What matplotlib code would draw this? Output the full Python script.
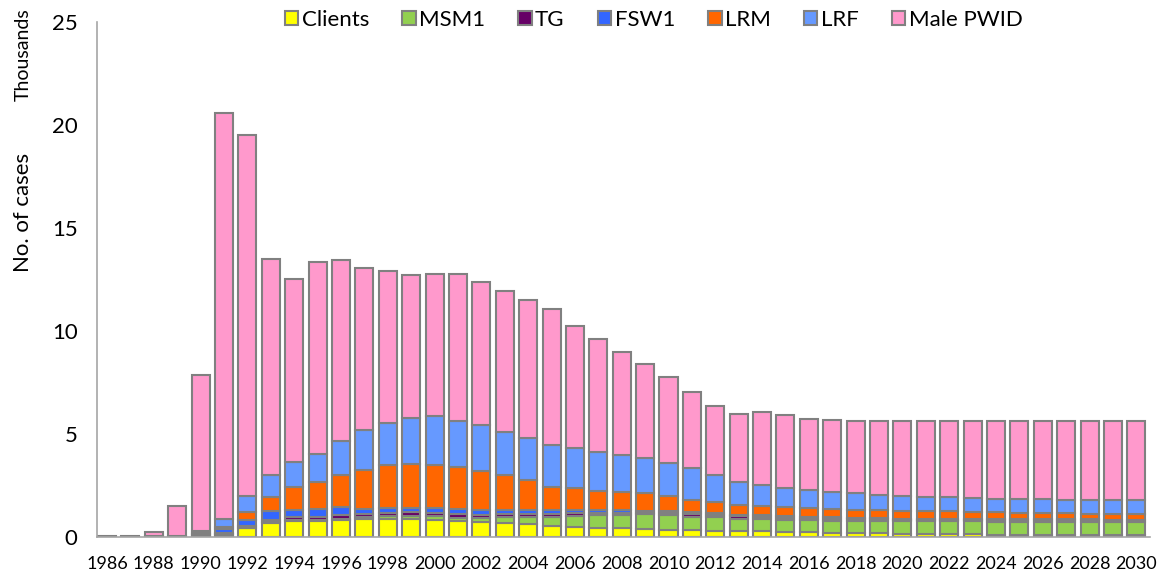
import numpy as np
import matplotlib.pyplot as plt

years = list(range(1986, 2031))

# values in thousands
clients = [0, 0, 0.01, 0.01, 0.05, 0.10, 0.42, 0.66, 0.79, 0.76, 0.85, 0.88, 0.88, 0.90, 0.85,
           0.78, 0.73, 0.68, 0.63, 0.56, 0.50, 0.45, 0.42, 0.38, 0.36, 0.33, 0.30, 0.28, 0.27, 0.25,
           0.24, 0.22, 0.20, 0.18, 0.17, 0.15, 0.14, 0.13, 0.12, 0.11, 0.10, 0.10, 0.09, 0.09, 0.08]
msm1 = [0, 0, 0, 0, 0.02, 0.03, 0.04, 0.06, 0.05, 0.06, 0.05, 0.09, 0.14, 0.12, 0.15,
        0.15, 0.20, 0.27, 0.34, 0.39, 0.53, 0.60, 0.66, 0.72, 0.72, 0.65, 0.67, 0.62, 0.61, 0.60,
        0.58, 0.58, 0.59, 0.60, 0.60, 0.62, 0.62, 0.63, 0.63, 0.64, 0.64, 0.64, 0.65, 0.65, 0.66]
tg = [0, 0, 0, 0, 0.02, 0.07, 0.09, 0.13, 0.13, 0.13, 0.15, 0.15, 0.16, 0.18, 0.18,
      0.17, 0.15, 0.15, 0.15, 0.15, 0.12, 0.10, 0.10, 0.08, 0.07, 0.12, 0.10, 0.10, 0.09, 0.08,
      0.08, 0.08, 0.08, 0.08, 0.08, 0.07, 0.07, 0.07, 0.07, 0.07, 0.07, 0.07, 0.07, 0.07, 0.07]
fsw1 = [0, 0, 0.01, 0.01, 0.08, 0.18, 0.30, 0.40, 0.33, 0.40, 0.40, 0.26, 0.24, 0.20, 0.22,
        0.25, 0.22, 0.20, 0.18, 0.20, 0.15, 0.15, 0.12, 0.10, 0.10, 0.10, 0.08, 0.08, 0.08, 0.09,
        0.08, 0.07, 0.06, 0.06, 0.05, 0.06, 0.06, 0.05, 0.05, 0.05, 0.05, 0.05, 0.05, 0.04, 0.04]
lrm = [0, 0, 0.01, 0.01, 0.05, 0.12, 0.35, 0.68, 1.15, 1.30, 1.55, 1.87, 2.08, 2.15, 2.10,
       2.05, 1.92, 1.70, 1.48, 1.15, 1.10, 0.95, 0.90, 0.87, 0.73, 0.60, 0.55, 0.47, 0.45, 0.43,
       0.42, 0.42, 0.40, 0.38, 0.38, 0.36, 0.35, 0.34, 0.33, 0.31, 0.30, 0.29, 0.28, 0.28, 0.27]
lrf = [0, 0, 0.01, 0.02, 0.08, 0.40, 0.78, 1.07, 1.20, 1.40, 1.65, 1.95, 2.05, 2.25, 2.35,
       2.25, 2.23, 2.12, 2.05, 2.00, 1.90, 1.90, 1.80, 1.67, 1.62, 1.55, 1.30, 1.13, 1.02, 0.95,
       0.90, 0.83, 0.80, 0.75, 0.72, 0.70, 0.69, 0.68, 0.67, 0.67, 0.67, 0.66, 0.66, 0.66, 0.66]
male_pwid = [0.03, 0.04, 0.22, 1.45, 7.55, 19.70, 17.52, 10.50, 8.85, 9.30, 8.80, 7.85, 7.35, 6.90, 6.90,
             7.10, 6.95, 6.83, 6.67, 6.60, 5.95, 5.45, 5.00, 4.58, 4.15, 3.70, 3.38, 3.30, 3.55, 3.50,
             3.45, 3.48, 3.52, 3.58, 3.63, 3.66, 3.69, 3.72, 3.75, 3.78, 3.80, 3.82, 3.83, 3.85, 3.87]

series = [('Clients', clients, '#FFFF00'),
          ('MSM1', msm1, '#92D050'),
          ('TG', tg, '#660066'),
          ('FSW1', fsw1, '#3366FF'),
          ('LRM', lrm, '#FF6600'),
          ('LRF', lrf, '#6699FF'),
          ('Male PWID', male_pwid, '#FF99CC')]

plt.rcParams['font.family'] = ['Lato', 'DejaVu Sans']

fig = plt.figure(figsize=(11.61, 5.75), dpi=100)
ax = fig.add_axes([0.0835, 0.066, 0.907, 0.896])

x = np.arange(len(years))
bottom = np.zeros(len(years))
for name, vals, col in series:
    ax.bar(x, vals, 0.77, bottom=bottom, color=col, edgecolor='#808080',
           linewidth=1.5, label=name)
    bottom += np.array(vals)

ax.set_ylim(0, 25)
ax.set_xlim(-0.43, len(years) - 1 + 0.58)
ax.set_yticks([0, 5, 10, 15, 20, 25])
ax.set_xticks(x[::2])
ax.set_xticklabels([str(y) for y in years[::2]])
ax.tick_params(axis='y', length=0, labelsize=16, pad=14)
ax.tick_params(axis='x', length=0, labelsize=13, pad=14)

for s in ['top', 'right']:
    ax.spines[s].set_visible(False)
for s in ['left', 'bottom']:
    ax.spines[s].set_color('#A6A6A6')
    ax.spines[s].set_linewidth(1.2)

fig.text(0.02, 0.63, 'No. of cases', rotation=90, fontsize=16, ha='center', va='center')
fig.text(0.02, 0.905, 'Thousands', rotation=90, fontsize=14, ha='center', va='center')

ax.legend(loc='upper center', bbox_to_anchor=(0.563, 1.01), bbox_transform=fig.transFigure,
          ncol=7, frameon=False, fontsize=16, handlelength=0.6, handleheight=0.6,
          handletextpad=0.15, columnspacing=1.5, borderaxespad=0.3)

fig.savefig('out.png', dpi=100)
